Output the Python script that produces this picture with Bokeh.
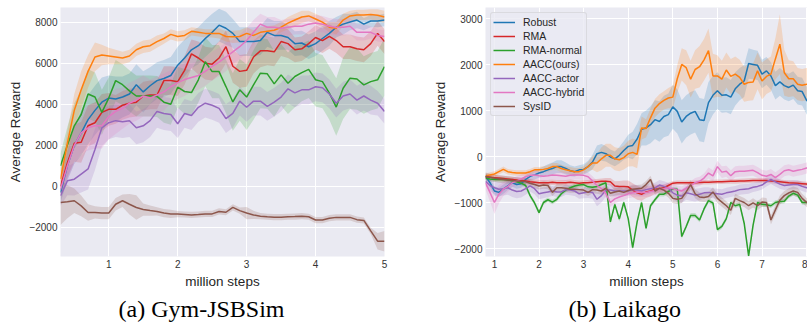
from bokeh.plotting import figure
from bokeh.models import Title, Legend, LegendItem, FixedTicker, Range1d
from bokeh.layouts import row
from bokeh.embed import file_html
from bokeh.resources import INLINE

NAMES = ["Robust", "RMA", "RMA-normal", "AACC(ours)", "AACC-actor", "AACC-hybrid", "SysID"]
COLORS = ["#1f77b4", "#d62728", "#2ca02c", "#ff7f0e", "#9467bd", "#e377c2", "#8c564b"]

# ---------------- (a) Gym-JSBSim : x = 0.3 .. 5.0 (million steps), step 0.1
jsb_x0, jsb_dx = 0.3, 0.1
jsb_robust = [-300, 1000, 2000, 2600, 3250, 3700, 4100, 4300, 4250, 4350, 4500, 4950, 4600, 4900, 5150, 5250,
              5400, 5900, 6250, 6650, 6850, 7200, 7500, 7850, 7700, 7450, 7050, 7050, 7050, 7100, 7500, 7350,
              7350, 7250, 6950, 6980, 6800, 6950, 7200, 7450, 7750, 7900, 8000, 8100, 7900, 8050, 8050, 8100]
jsb_rma = [0, 1150, 2100, 2150, 2950, 3100, 3600, 3750, 3750, 3950, 4050, 4100, 4400, 4450, 4450, 5150,
           5150, 5100, 5650, 6450, 6250, 6000, 5950, 6250, 6800, 5850, 5600, 5650, 6300, 6600, 6600, 6550,
           7050, 6950, 6650, 6700, 6950, 7250, 7100, 7300, 7100, 6800, 6800, 6700, 6650, 6950, 7450, 7050]
jsb_rma_normal = [1000, 2000, 2950, 3500, 4500, 4350, 3600, 4300, 5150, 4950, 4650, 4400, 4400, 4400, 4380, 4100,
                  4000, 4830, 4620, 4570, 5190, 6070, 5590, 5590, 4860, 4110, 4700, 4350, 4940, 5510, 5480, 4990,
                  5430, 5020, 5350, 5540, 5700, 5190, 5100, 4540, 3860, 4780, 5270, 5230, 4940, 5100, 5190, 5830]
jsb_aacc = [350, 2100, 3700, 4700, 5600, 6300, 6400, 6350, 6300, 6250, 6350, 6650, 6800, 6850, 7050, 7200,
            7400, 7300, 7350, 7550, 7500, 7450, 7450, 7450, 7300, 7280, 7300, 7450, 7350, 7500, 7550, 7600,
            7750, 7950, 8100, 8250, 8300, 8150, 8000, 7750, 7700, 8100, 8300, 8350, 8350, 8370, 8330, 8250]
jsb_actor = [-450, 270, 350, 600, 850, 1800, 2850, 3100, 3200, 3150, 3200, 2850, 2950, 3200, 3650, 3550,
             3500, 3050, 3550, 3450, 3850, 4050, 3950, 3800, 3300, 3550, 4150, 3850, 4150, 4150, 3900, 4100,
             4350, 4750, 4550, 4700, 4700, 4850, 4800, 4500, 4050, 4400, 4500, 4200, 4400, 4200, 4050, 3650]
jsb_hybrid = [-150, 1000, 2000, 2600, 2850, 2950, 2950, 3400, 3650, 3800, 4050, 4200, 4400, 4300, 4450, 4600,
              4850, 5050, 5200, 5300, 5400, 5600, 5850, 6050, 6300, 6550, 6800, 7100, 7500, 7900, 7750, 7750,
              7700, 7750, 7800, 7800, 7900, 7950, 7900, 7800, 7750, 7750, 7800, 7500, 7500, 7500, 7350, 7300]
jsb_sysid = [-780, -750, -700, -950, -1270, -1270, -1300, -1300, -870, -700, -870, -1030, -1130, -1180, -1220, -1300,
             -1340, -1350, -1370, -1390, -1370, -1340, -1340, -1220, -1260, -1020, -1180, -1300, -1390, -1450, -1480, -1500,
             -1500, -1480, -1470, -1450, -1480, -1640, -1640, -1550, -1510, -1510, -1510, -1620, -1660, -2170, -2670, -2670]

# half-width of the shaded bands
jsb_robust_sd = [500, 700, 900, 1100, 1200, 1200, 1200, 1100, 1100, 1000, 1000, 1000, 1000, 900, 900, 900,
                 900, 900, 900, 900, 900, 900, 900, 800, 800, 700, 700, 700, 700, 700, 700, 700,
                 700, 600, 600, 600, 600, 600, 600, 600, 500, 500, 400, 400, 300, 300, 300, 300]
jsb_rma_sd = [500, 700, 900, 1000, 1000, 1000, 900, 800, 700, 700, 700, 700, 700, 700, 700, 700,
              700, 700, 700, 700, 800, 800, 800, 800, 800, 800, 800, 800, 800, 800, 700, 700,
              700, 700, 600, 600, 600, 600, 600, 600, 600, 600, 600, 600, 600, 600, 600, 600]
jsb_rma_normal_sd = [600, 900, 1100, 1200, 1200, 1200, 1100, 1000, 1000, 1000, 1000, 1000, 1000, 1000, 1000, 1000,
                     1000, 1000, 1100, 1100, 1100, 1200, 1300, 1300, 1300, 1400, 1500, 1600, 1700, 1700, 1700, 1600,
                     1500, 1500, 1500, 1400, 1400, 1300, 1300, 1300, 1400, 1500, 1500, 1500, 1400, 1400, 1400, 1400]
jsb_aacc_sd = [400, 600, 800, 900, 800, 700, 500, 400, 350, 300, 300, 300, 300, 300, 300, 250,
               250, 250, 250, 200, 200, 200, 200, 250, 250, 300, 300, 300, 250, 250, 250, 250,
               250, 300, 300, 300, 250, 250, 250, 250, 300, 300, 250, 250, 250, 250, 300, 300]
jsb_actor_sd = [500, 700, 800, 900, 1000, 1000, 900, 800, 800, 800, 800, 800, 800, 800, 800, 800,
                800, 700, 700, 700, 700, 700, 700, 700, 700, 700, 700, 700, 700, 700, 700, 700,
                700, 700, 700, 700, 700, 700, 700, 700, 700, 700, 700, 700, 700, 700, 600, 600]
jsb_hybrid_sd = [500, 700, 900, 1000, 1100, 1100, 1100, 1100, 1100, 1000, 1000, 1000, 1000, 900, 900, 900,
                 800, 800, 800, 700, 700, 700, 700, 700, 700, 600, 600, 600, 600, 500, 500, 500,
                 400, 400, 400, 400, 400, 400, 400, 400, 400, 400, 400, 400, 400, 300, 300, 300]
jsb_sysid_sd = [1100, 800, 600, 500, 400, 300, 300, 300, 300, 300, 500, 600, 300, 250, 200, 200,
                200, 150, 150, 150, 150, 150, 150, 150, 150, 150, 150, 300, 200, 150, 150, 150,
                150, 150, 150, 150, 150, 150, 150, 150, 150, 150, 150, 150, 150, 150, 400, 500]

# ---------------- (b) Laikago : x = 0.8 .. 8.1 (million steps), step 0.1
lai_x0, lai_dx = 0.8, 0.1
lai_robust = [-420, -560, -740, -770, -700, -630, -560, -600, -580, -490,
              -420, -390, -350, -320, -280, -250, -210, -210, -250, -300,
              -320, -280, -270, -210, -110, 70, 100, 70, 0, -40,
              35, 140, 230, 250, 390, 600, 630, 700, 810, 770,
              880, 920, 1090, 990, 760, 880, 950, 990, 810, 790,
              1180, 1340, 1440, 1340, 1350, 1300, 1480, 1580, 1650, 2030,
              2010, 1990, 1800, 1870, 1760, 1550, 1630, 1550, 1510, 1560,
              1440, 1420, 1230, 1130]
lai_rma = [-430, -440, -450, -460, -470, -480, -490, -500, -510, -520,
           -540, -550, -560, -560, -560, -550, -560, -560, -560, -550,
           -560, -570, -560, -560, -550, -540, -530, -530, -540, -630,
           -640, -640, -650, -720, -780, -810, -760, -740, -700, -690,
           -670, -620, -570, -560, -560, -560, -560, -560, -555, -550,
           -550, -545, -540, -540, -535, -530, -530, -525, -520, -515,
           -510, -510, -510, -510, -520, -530, -540, -550, -560, -565,
           -570, -580, -590, -600]
lai_rma_normal = [-460, -480, -490, -490, -490, -500, -520, -540, -570, -620,
                  -840, -1000, -1210, -990, -930, -980, -920, -800, -720, -670,
                  -630, -610, -600, -650, -660, -640, -600, -560, -1410, -1030,
                  -1350, -990, -1340, -1970, -1410, -990, -1550, -1060, -930, -810,
                  -810, -750, -700, -700, -1730, -1510, -1270, -1270, -1370, -1130,
                  -950, -1000, -1580, -1510, -1340, -990, -1060, -1030, -1440, -2150,
                  -1480, -990, -1030, -1040, -1060, -990, -970, -960, -850, -790,
                  -830, -990, -990, -1000]
lai_aacc = [-420, -390, -370, -320, -270, -320, -340, -350, -350, -350,
            -320, -280, -280, -270, -250, -210, -210, -250, -280, -300,
            -320, -320, -280, -210, -130, -130, -40, 35, 35, -40,
            -60, -15, 70, 100, 55, 630, 620, 850, 1060, 1160,
            1230, 1280, 1300, 1700, 2010, 1940, 1690, 1900, 1960, 2110,
            2310, 1760, 1760, 1690, 1890, 1750, 1800, 1730, 1580, 1620,
            1630, 1870, 1650, 1750, 1800, 2130, 2450, 1830, 1700, 1700,
            1580, 1560, 1580, 1620]
lai_actor = [-530, -620, -670, -700, -690, -670, -720, -750, -740, -690,
             -630, -690, -800, -780, -760, -740, -760, -760, -710, -720,
             -740, -800, -780, -760, -770, -920, -840, -720, -720, -740,
             -740, -740, -740, -710, -720, -740, -710, -690, -670, -610,
             -640, -680, -780, -830, -850, -780, -800, -830, -810, -780,
             -770, -790, -800, -810, -780, -760, -740, -710, -700, -690,
             -660, -640, -610, -540, -490, -540, -590, -620, -610, -600,
             -600, -640, -670, -680]
lai_hybrid = [-560, -770, -990, -810, -700, -640, -560, -520, -480, -430,
              -400, -390, -410, -420, -410, -390, -400, -410, -420, -400,
              -390, -390, -400, -430, -520, -620, -690, -800, -990, -910,
              -870, -840, -800, -780, -760, -770, -770, -750, -730, -700,
              -690, -670, -690, -720, -740, -680, -630, -560, -530, -460,
              -350, -410, -210, -330, -310, -410, -320, -310, -310, -300,
              -290, -340, -400, -420, -380, -450, -380, -300, -280, -310,
              -290, -270, -240, -230]
lai_sysid = [-420, -440, -460, -480, -490, -500, -510, -520, -530, -540,
             -570, -600, -630, -610, -620, -770, -670, -670, -680, -700,
             -700, -710, -720, -770, -710, -720, -740, -680, -790, -760,
             -740, -770, -730, -700, -690, -680, -600, -490, -740, -680,
             -720, -790, -900, -920, -900, -760, -600, -800, -870, -880,
             -860, -760, -900, -980, -1060, -1160, -900, -950, -990, -1060,
             -1000, -1060, -980, -990, -1370, -1150, -940, -840, -780, -740,
             -770, -900, -990, -1000]

lai_robust_sd = [80, 90, 100, 100, 100, 90, 90, 90, 90, 90,
                 90, 100, 100, 110, 120, 130, 140, 140, 130, 120,
                 110, 100, 110, 130, 160, 180, 180, 170, 160, 160,
                 180, 200, 250, 300, 330, 350, 380, 400, 420, 440,
                 450, 460, 480, 480, 470, 460, 460, 460, 470, 470,
                 450, 420, 400, 380, 380, 370, 360, 350, 350, 330,
                 320, 320, 310, 300, 300, 300, 300, 300, 300, 300,
                 300, 300, 300, 300]
lai_rma_sd = [60, 60, 60, 60, 60, 60, 60, 60, 60, 60,
              60, 60, 60, 60, 60, 60, 60, 60, 60, 60,
              60, 60, 60, 60, 60, 60, 60, 70, 80, 100,
              120, 130, 140, 150, 150, 140, 130, 120, 100, 80,
              70, 60, 50, 50, 50, 50, 50, 50, 50, 50,
              50, 50, 50, 50, 50, 50, 50, 50, 50, 50,
              50, 50, 50, 50, 50, 50, 50, 50, 50, 50,
              50, 50, 50, 50]
lai_rma_normal_sd = [50, 50, 50, 50, 50, 50, 50, 50, 50, 50,
                     50, 50, 50, 50, 50, 50, 50, 50, 50, 50,
                     50, 50, 50, 50, 50, 50, 50, 50, 50, 50,
                     50, 50, 50, 50, 50, 50, 50, 50, 50, 50,
                     50, 50, 50, 50, 50, 50, 50, 50, 50, 50,
                     50, 50, 50, 50, 50, 50, 50, 50, 50, 50,
                     50, 50, 50, 50, 50, 50, 50, 50, 50, 50,
                     50, 50, 50, 50]
lai_aacc_sd = [60, 60, 60, 60, 60, 60, 60, 60, 60, 60,
               60, 60, 60, 70, 70, 80, 80, 80, 80, 80,
               80, 80, 80, 100, 150, 200, 250, 250, 250, 250,
               250, 260, 280, 300, 300, 250, 200, 200, 200, 200,
               200, 220, 250, 300, 350, 380, 400, 420, 450, 450,
               480, 480, 450, 400, 380, 380, 380, 380, 380, 400,
               400, 400, 400, 380, 380, 450, 650, 500, 400, 380,
               350, 350, 350, 350]
lai_actor_sd = [100, 120, 140, 150, 150, 150, 150, 150, 140, 130,
                120, 120, 120, 120, 110, 110, 110, 110, 110, 110,
                110, 110, 120, 130, 140, 150, 150, 140, 130, 120,
                110, 110, 110, 110, 110, 110, 110, 110, 110, 110,
                110, 120, 140, 150, 150, 150, 150, 140, 130, 120,
                110, 110, 110, 110, 110, 110, 110, 110, 110, 110,
                100, 100, 100, 100, 100, 100, 100, 100, 100, 100,
                100, 100, 100, 100]
lai_hybrid_sd = [150, 200, 250, 200, 150, 120, 100, 100, 100, 100,
                 100, 100, 100, 100, 100, 100, 100, 100, 100, 100,
                 100, 100, 100, 100, 100, 100, 100, 100, 100, 100,
                 100, 100, 100, 100, 100, 100, 100, 100, 100, 100,
                 100, 100, 100, 100, 100, 100, 100, 100, 100, 100,
                 120, 120, 130, 130, 120, 120, 120, 120, 120, 120,
                 120, 120, 120, 120, 120, 120, 120, 120, 120, 120,
                 120, 120, 120, 120]
lai_sysid_sd = [80, 80, 80, 80, 80, 80, 80, 80, 80, 80,
                80, 80, 80, 80, 80, 80, 80, 80, 80, 80,
                80, 80, 80, 80, 80, 80, 80, 80, 80, 80,
                80, 80, 80, 80, 80, 80, 80, 80, 80, 80,
                90, 90, 100, 100, 100, 100, 100, 100, 100, 100,
                100, 100, 100, 100, 100, 100, 100, 100, 100, 100,
                100, 100, 100, 100, 100, 100, 100, 100, 100, 100,
                100, 100, 100, 100]

# ticks
jsb_xticks = [1, 2, 3, 4, 5]
jsb_yticks = [-2000, 0, 2000, 4000, 6000, 8000]
lai_xticks = [1, 2, 3, 4, 5, 6, 7, 8]
lai_yticks = [-2000, -1000, 0, 1000, 2000, 3000]

X_LABEL = "million steps"
Y_LABEL = "Average Reward"
CAPTIONS = ["(a) Gym-JSBSim", "(b) Laikago"]

SANS = "Liberation Sans"
SERIF = "Liberation Serif"


def style(p, xticks, yticks):
    p.background_fill_color = "#EAEAF2"
    p.border_fill_color = "white"
    p.outline_line_color = None
    p.xaxis.ticker = FixedTicker(ticks=xticks)
    p.yaxis.ticker = FixedTicker(ticks=yticks)
    p.xgrid.ticker = FixedTicker(ticks=xticks)
    p.ygrid.ticker = FixedTicker(ticks=yticks)
    p.grid.grid_line_color = "white"
    p.grid.grid_line_width = 1
    for ax in (p.xaxis[0], p.yaxis[0]):
        ax.axis_line_color = None
        ax.major_tick_line_color = None
        ax.minor_tick_line_color = None
        ax.major_tick_out = 0
        ax.major_tick_in = 0
        ax.minor_tick_out = 0
        ax.major_label_text_font = SANS
        ax.major_label_text_font_size = "10px"
        ax.major_label_text_color = "#333333"
        ax.axis_label_text_font = SANS
        ax.axis_label_text_font_size = "13.5px"
        ax.axis_label_text_font_style = "normal"
        ax.axis_label_text_color = "#262626"
        ax.major_label_standoff = 3
        ax.axis_label_standoff = 3
    p.xaxis.axis_label = X_LABEL
    p.yaxis.axis_label = Y_LABEL


def draw(p, x0, dx, series, spreads):
    lines = []
    for ys, sd, c in zip(series, spreads, COLORS):
        n = min(len(ys), len(sd))
        xs = [x0 + dx * i for i in range(n)]
        lo = [ys[i] - sd[i] for i in range(n)]
        hi = [ys[i] + sd[i] for i in range(n)]
        p.varea(x=xs, y1=lo, y2=hi, fill_color=c, fill_alpha=0.2)
    for ys, c in zip(series, COLORS):
        xs = [x0 + dx * i for i in range(len(ys))]
        lines.append(p.line(xs, ys, line_color=c, line_width=1.5))
    return lines


# ---------- left figure
p1 = figure(width=420, height=332, x_range=Range1d(0.3, 5.0), y_range=Range1d(-3415, 8710),
            output_backend="svg", toolbar_location=None,
            min_border_left=60, min_border_right=36, min_border_top=7, min_border_bottom=74)
style(p1, jsb_xticks, jsb_yticks)
draw(p1, jsb_x0, jsb_dx,
     [jsb_robust, jsb_rma, jsb_rma_normal, jsb_aacc, jsb_actor, jsb_hybrid, jsb_sysid],
     [jsb_robust_sd, jsb_rma_sd, jsb_rma_normal_sd, jsb_aacc_sd, jsb_actor_sd, jsb_hybrid_sd, jsb_sysid_sd])
p1.add_layout(Title(text=CAPTIONS[0], align="left", offset=58, text_font=SERIF,
                    text_font_size="24px", text_font_style="normal", text_color="black",
                    standoff=5), "below")

# ---------- right figure
p2 = figure(width=387, height=332, x_range=Range1d(0.8, 8.02), y_range=Range1d(-2163, 3247),
            output_backend="svg", toolbar_location=None,
            min_border_left=65, min_border_right=0, min_border_top=0, min_border_bottom=76)
style(p2, lai_xticks, lai_yticks)
lines2 = draw(p2, lai_x0, lai_dx,
              [lai_robust, lai_rma, lai_rma_normal, lai_aacc, lai_actor, lai_hybrid, lai_sysid],
              [lai_robust_sd, lai_rma_sd, lai_rma_normal_sd, lai_aacc_sd, lai_actor_sd, lai_hybrid_sd, lai_sysid_sd])
p2.add_layout(Title(text=CAPTIONS[1], align="left", offset=83, text_font=SERIF,
                    text_font_size="24px", text_font_style="normal", text_color="black",
                    standoff=5), "below")

legend = Legend(items=[LegendItem(label=n, renderers=[r]) for n, r in zip(NAMES, lines2)],
                location="top_left")
legend.label_text_font = SANS
legend.label_text_font_size = "10.5px"
legend.label_text_color = "#262626"
legend.glyph_width = 22
legend.glyph_height = 14
legend.label_height = 14
legend.label_standoff = 8
legend.spacing = 0
legend.padding = 2
legend.margin = 5
legend.background_fill_color = "#EAEAF2"
legend.background_fill_alpha = 0.8
legend.border_line_color = "#cccccc"
legend.border_radius = 3
p2.add_layout(legend)

layout = row(p1, p2, spacing=0)
open("out.html", "w").write(file_html(layout, INLINE))
